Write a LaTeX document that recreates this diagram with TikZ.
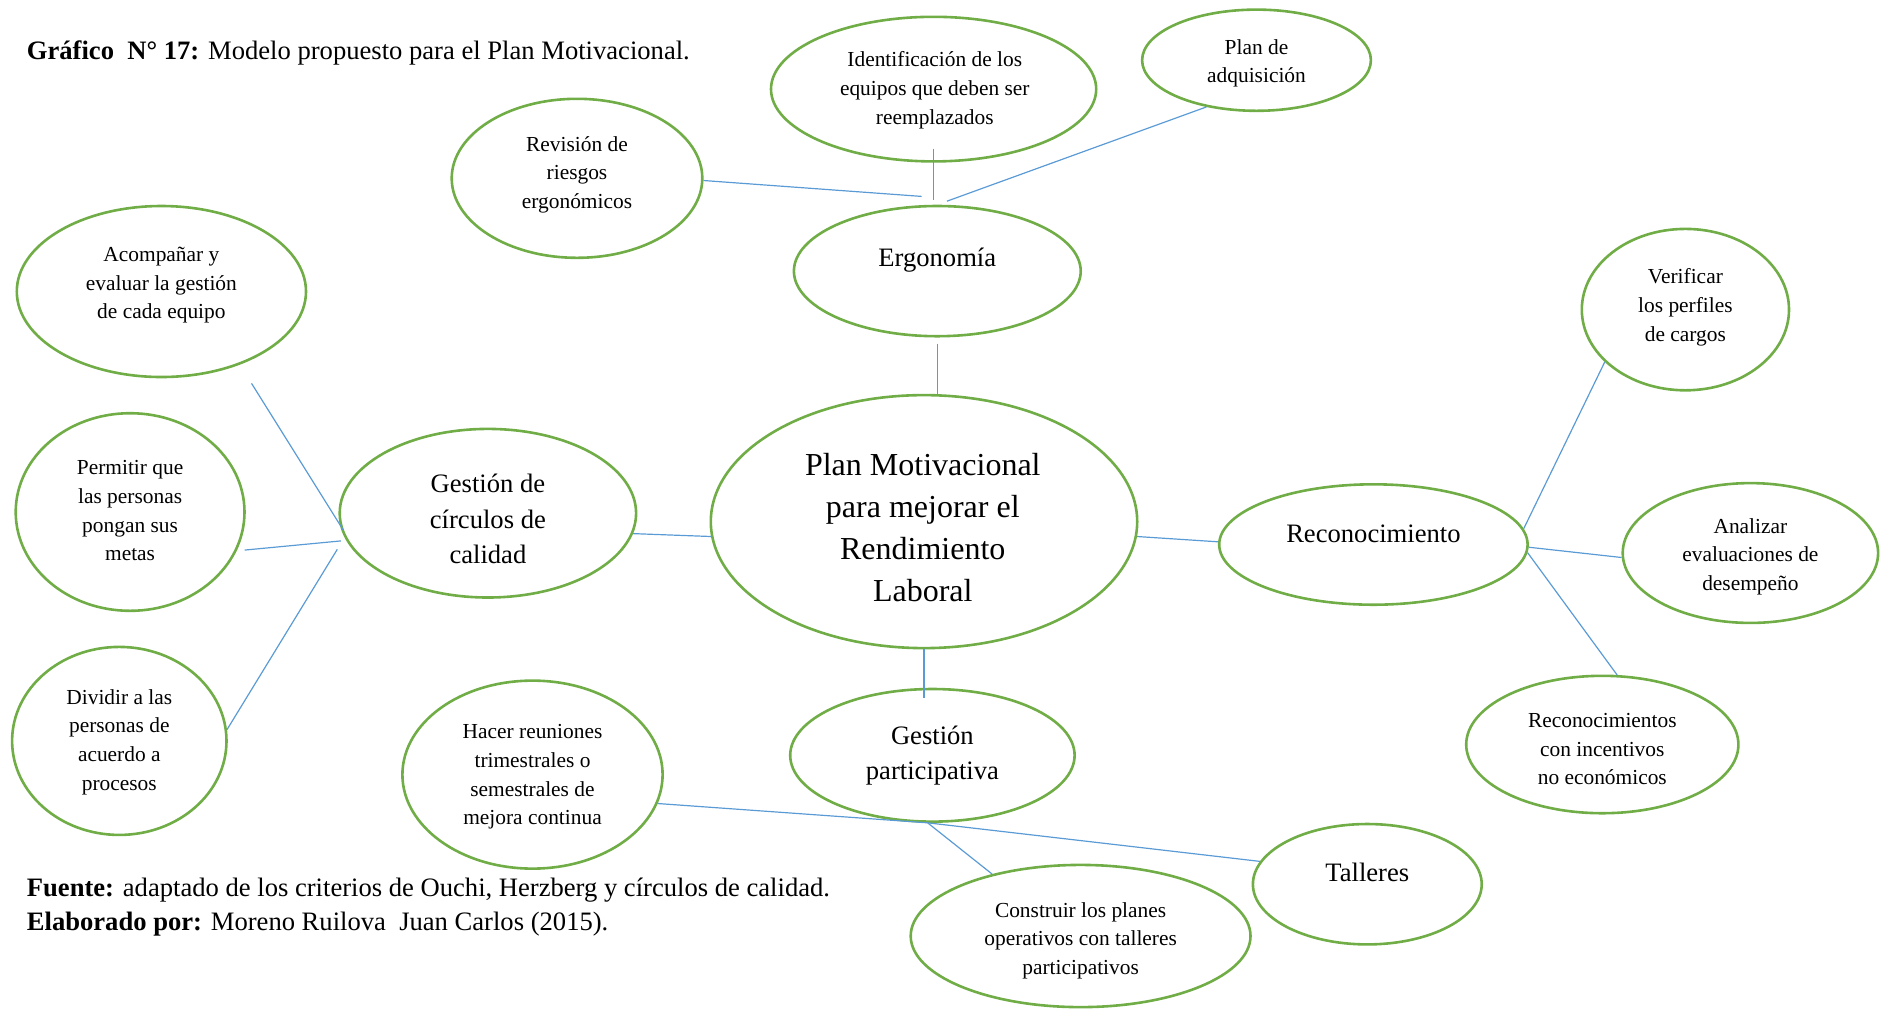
\documentclass[tikz,border=0pt]{standalone}
\usepackage{fontspec}
\setmainfont{Liberation Serif}
\usetikzlibrary{shapes.geometric}
\definecolor{bubgreen}{RGB}{112,173,71}
\definecolor{linkblue}{RGB}{91,155,213}
\begin{document}
\begin{tikzpicture}[x=0.5pt,y=-0.5pt,
  bub/.style 2 args={ellipse,draw=bubgreen,line width=1.3pt,inner sep=0pt,
    minimum width=#1pt,minimum height=#2pt},
  link/.style={draw=linkblue,line width=0.6pt},
  smalltxt/.style={align=center,inner sep=0pt,yshift=-1.2pt,font=\fontsize{10.7}{14.3}\selectfont},
  midtxt/.style={align=center,inner sep=0pt,yshift=-1.2pt,font=\fontsize{13.3}{17.7}\selectfont},
  bigtxt/.style={align=center,inner sep=0pt,yshift=-1pt,font=\fontsize{16}{21}\selectfont},
  captxt/.style={anchor=west,inner sep=0pt,font=\fontsize{13.3}{16}\selectfont}]
\useasboundingbox (0,0) rectangle (1889,1009);

% bubbles
\node[bub={162.6}{72.3}] (iden) at (933.6,89.1) {};
\node[bub={114.4}{50.6}] (plan) at (1256.5,60.2) {};
\node[bub={125.3}{79.5}] (rev) at (577.0,178.3) {};
\node[bub={143.4}{65.1}] (erg) at (937.3,271.1) {};
\node[bub={144.6}{85.5}] (aco) at (161.4,291.5) {};
\node[bub={103.6}{80.7}] (ver) at (1685.4,309.6) {};
\node[bub={114.4}{98.8}] (per) at (130.1,512.0) {};
\node[bub={148.2}{84.3}] (gcc) at (487.9,513.2) {};
\node[bub={213.2}{126.5}] (cen) at (924.0,521.6) {};
\node[bub={154.2}{60.2}] (rec) at (1373.4,544.5) {};
\node[bub={127.7}{69.9}] (ana) at (1750.4,553.0) {};
\node[bub={107.2}{94.0}] (div) at (119.3,740.9) {};
\node[bub={130.1}{94.0}] (hac) at (532.5,774.6) {};
\node[bub={142.2}{66.3}] (gpa) at (932.4,755.3) {};
\node[bub={136.1}{68.7}] (recs) at (1602.3,744.5) {};
\node[bub={114.4}{60.2}] (tal) at (1367.3,884.2) {};
\node[bub={169.9}{71.1}] (con) at (1080.6,936.0) {};

% labels
\node[smalltxt] (l-iden) at (934.8,87.9) {Identificación de los\\equipos que deben ser\\reemplazados};
\node[smalltxt] (l-plan) at (1256.5,60.8) {Plan de\\adquisición};
\node[smalltxt] (l-rev) at (577.0,172.3) {Revisión de\\riesgos\\ergonómicos};
\node[midtxt] (l-erg) at (937.3,257.8) {Ergonomía};
\node[smalltxt] (l-aco) at (161.4,282.7) {Acompañar y\\evaluar la gestión\\de cada equipo};
\node[smalltxt] (l-ver) at (1685.4,304.8) {Verificar\\los perfiles\\de cargos};
\node[smalltxt] (l-per) at (130.1,508.4) {Permitir que\\las personas\\pongan sus\\metas};
\node[midtxt] (l-gcc) at (487.9,516.8) {Gestión de\\círculos de\\calidad};
\node[bigtxt] (l-cen) at (922.8,525.2) {Plan Motivacional\\para mejorar el\\Rendimiento\\Laboral};
\node[midtxt] (l-rec) at (1373.4,531.3) {Reconocimiento};
\node[smalltxt] (l-ana) at (1750.4,554.2) {Analizar\\evaluaciones de\\desempeño};
\node[smalltxt] (l-div) at (119.3,739.7) {Dividir a las\\personas de\\acuerdo a\\procesos};
\node[smalltxt] (l-hac) at (532.5,774.6) {Hacer reuniones\\trimestrales o\\semestrales de\\mejora continua};
\node[midtxt] (l-gpa) at (932.4,752.9) {Gestión\\participativa};
\node[smalltxt] (l-recs) at (1602.3,746.9) {Reconocimientos\\con incentivos\\no económicos};
\node[midtxt] (l-tal) at (1367.3,869.8) {Talleres};
\node[smalltxt] (l-con) at (1080.6,938.1) {Construir los planes\\operativos con talleres\\participativos};

% junction points
\coordinate (e1) at (921.6,196.4);
\coordinate (e2) at (933.6,200.0);
\coordinate (e3) at (946.9,201.2);
\coordinate (g1) at (343.3,530.1);
\coordinate (g2) at (340.9,540.9);
\coordinate (g3) at (337.3,549.3);
\coordinate (hgpa) at (927.6,822.8);

% connectors
\draw[link] (rev.-1) -- (e1);
\draw[link,shorten <=-7pt] (iden.south) -- (e2);
\draw[link] (plan.223) -- (e3);
\draw[link,shorten <=3pt] (erg.south) -- (erg.south |- cen.north);
\draw[link,shorten >=-5pt] (cen.south) -- (cen.south |- gpa.north);
\draw[link,shorten <=11pt] (aco.-43) -- (g1);
\draw[link,shorten <=4pt] (per.-20) -- (g2);
\draw[link] (div.6) -- (g3);
\draw[link] (gcc.-8) -- (cen.184);
\draw[link] (cen.-4) -- (rec.179);
\draw[link] (rec.6) -- (ver.213);
\draw[link] (rec.-1) -- (ana.182);
\draw[link] (rec.-3) -- (recs.78);
\draw[link] (hac.-13) -- (hgpa);
\draw[link] (hgpa) -- (tal.168);
\draw[link] (hgpa) -- (con.145);

% caption lines
\node[captxt] (title) at (26.5,53.0) {\textbf{Gráfico\ \ N° 17:} Modelo propuesto para el Plan Motivacional.};
\node[captxt] (src) at (26.5,890.4) {\textbf{Fuente:} adaptado de los criterios de Ouchi, Herzberg y círculos de calidad.};
\node[captxt] (auth) at (26.5,924.2) {\textbf{Elaborado por:} Moreno Ruilova\ \ Juan Carlos (2015).};
\end{tikzpicture}
\end{document}
